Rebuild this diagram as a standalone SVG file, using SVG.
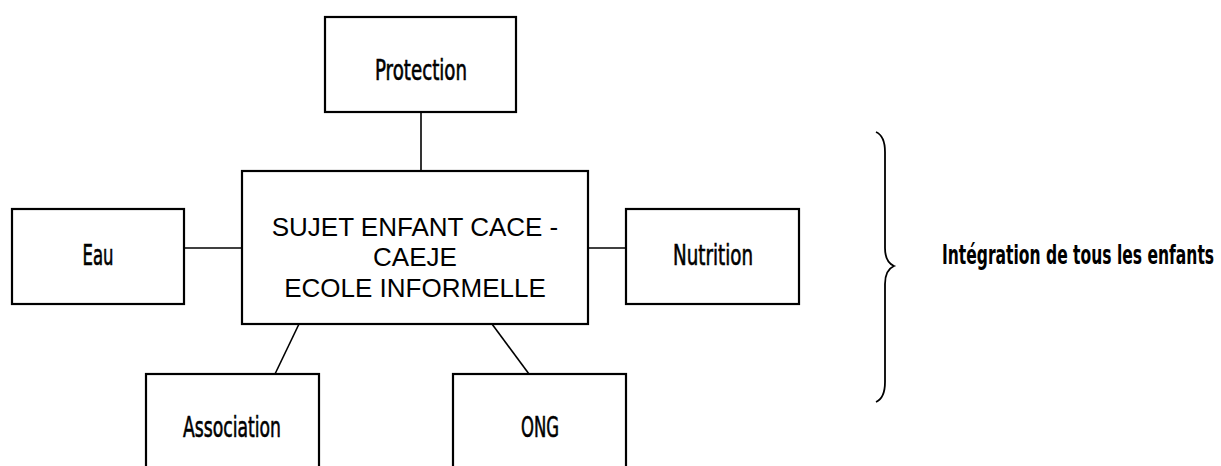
<svg xmlns="http://www.w3.org/2000/svg" width="1221" height="466" viewBox="0 0 1221 466">
<style>
.box{fill:#fff;stroke:#000;stroke-width:2.2}
.lbl{font-family:"Liberation Sans Narrow","DejaVu Sans Condensed","Liberation Sans",sans-serif;font-size:28px;fill:#000;stroke:#000;stroke-width:0.6;text-anchor:middle}
.ctr{font-family:"Liberation Sans",Arial,sans-serif;font-size:26px;fill:#000;text-anchor:middle}
.conn{stroke:#000;stroke-width:1.6;fill:none}
.side{font-family:"Liberation Sans Narrow","DejaVu Sans Condensed","Liberation Sans",sans-serif;font-size:26px;font-weight:bold;fill:#000}
</style>
<rect width="1221" height="466" fill="#fff"/>
<g id="connectors">
<line class="conn" x1="421" y1="112" x2="421" y2="171"/>
<line class="conn" x1="184" y1="248" x2="242" y2="248"/>
<line class="conn" x1="588" y1="248" x2="626" y2="248"/>
<line class="conn" x1="299" y1="324" x2="275" y2="374"/>
<line class="conn" x1="492" y1="324" x2="529" y2="374"/>
</g>
<g id="protection">
<rect class="box" x="325" y="17" width="191" height="95"/>
<text class="lbl" x="421" y="80" textLength="92" lengthAdjust="spacingAndGlyphs">Protection</text>
</g>
<g id="center">
<rect class="box" x="242" y="171" width="346" height="153"/>
<text class="ctr" x="415" y="236">SUJET ENFANT CACE -</text>
<text class="ctr" x="415" y="266">CAEJE</text>
<text class="ctr" x="415" y="297">ECOLE INFORMELLE</text>
</g>
<g id="eau">
<rect class="box" x="12" y="209" width="172" height="95"/>
<text class="lbl" x="98" y="265" textLength="31" lengthAdjust="spacingAndGlyphs">Eau</text>
</g>
<g id="nutrition">
<rect class="box" x="626" y="209" width="173" height="95"/>
<text class="lbl" x="713" y="265" textLength="80" lengthAdjust="spacingAndGlyphs">Nutrition</text>
</g>
<g id="association">
<rect class="box" x="146" y="374" width="173" height="100"/>
<text class="lbl" x="232" y="437" textLength="98" lengthAdjust="spacingAndGlyphs">Association</text>
</g>
<g id="ong">
<rect class="box" x="453" y="374" width="173" height="100"/>
<text class="lbl" x="540" y="437" textLength="38" lengthAdjust="spacingAndGlyphs">ONG</text>
</g>
<g id="brace">
<path d="M876 132 Q885 136 885 152 L885 248 Q885 262 894 266 Q885 270 885 284 L885 382 Q885 398 876 402" fill="none" stroke="#000" stroke-width="1.8"/>
<text class="side" transform="translate(942 264) scale(0.665 1)">Intégration de tous les enfants</text>
</g>
</svg>
